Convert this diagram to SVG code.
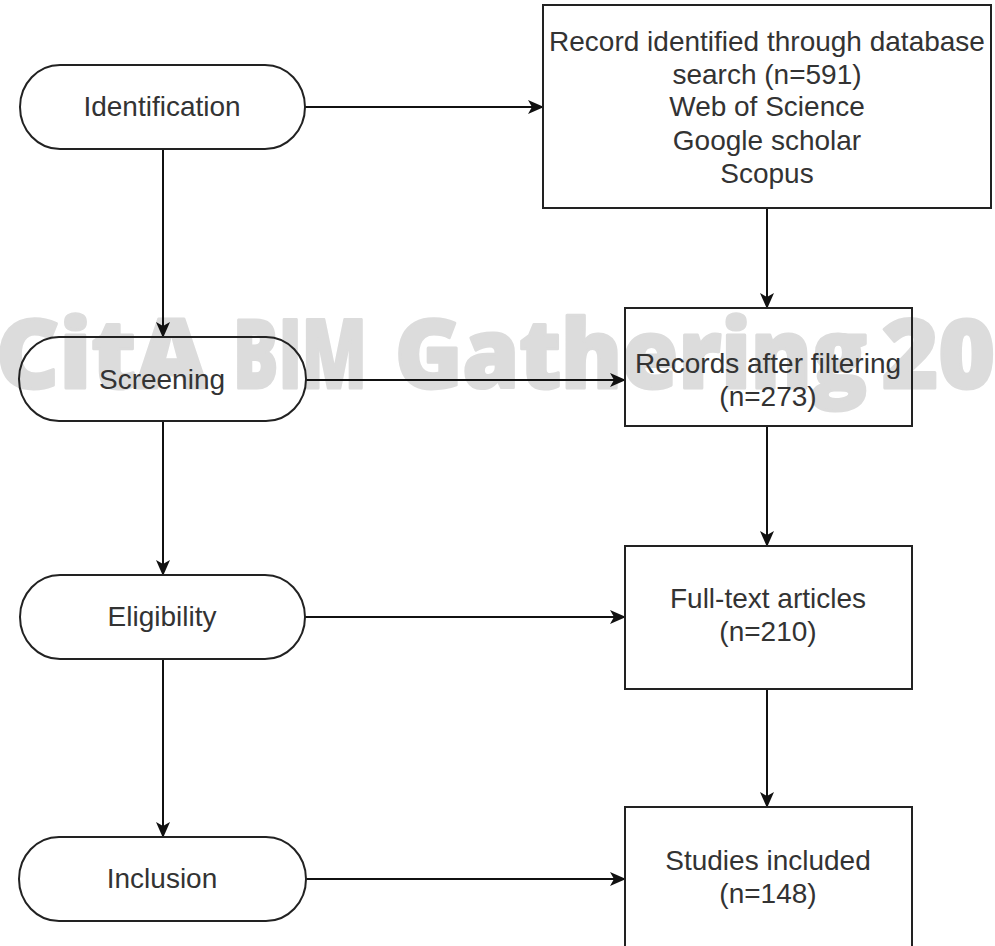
<svg xmlns="http://www.w3.org/2000/svg" width="995" height="946" viewBox="0 0 995 946">
<style>
.shape{fill:none;stroke:#222;stroke-width:2}
.lbl{font-family:"Liberation Sans",Arial,sans-serif;font-size:28px;fill:#333;text-anchor:middle}
.conn{stroke:#111;stroke-width:2;fill:none}
.wm{font-family:"Open Sans","Noto Sans",sans-serif;font-weight:800;font-size:95px;fill:#dcdcdc;stroke:#dcdcdc;stroke-width:3;stroke-linejoin:round}
</style>
<defs>
<marker id="arr" viewBox="0 0 16 14" refX="15" refY="7" markerWidth="16" markerHeight="14" markerUnits="userSpaceOnUse" orient="auto">
<path d="M0,0 L16,7 L0,14 L4,7 z" fill="#111"/>
</marker>
</defs>
<rect width="995" height="946" fill="#fff"/>
<g id="watermark">
<text class="wm" x="-4" y="388" textLength="211" lengthAdjust="spacingAndGlyphs">CitA</text>
<text class="wm" x="233" y="388" textLength="134" lengthAdjust="spacingAndGlyphs">BIM</text>
<text class="wm" x="395" y="388" textLength="472" lengthAdjust="spacingAndGlyphs">Gathering</text>
<text class="wm" x="882" y="388" textLength="226" lengthAdjust="spacingAndGlyphs">2023</text>
</g>
<g id="connectors">
<line class="conn" x1="305" y1="107" x2="543" y2="107" marker-end="url(#arr)"/>
<line class="conn" x1="306" y1="380" x2="625" y2="380" marker-end="url(#arr)"/>
<line class="conn" x1="305" y1="617" x2="625" y2="617" marker-end="url(#arr)"/>
<line class="conn" x1="306" y1="879" x2="625" y2="879" marker-end="url(#arr)"/>
<line class="conn" x1="163" y1="149" x2="163" y2="337" marker-end="url(#arr)"/>
<line class="conn" x1="163" y1="421" x2="163" y2="575" marker-end="url(#arr)"/>
<line class="conn" x1="163" y1="659" x2="163" y2="837" marker-end="url(#arr)"/>
<line class="conn" x1="767" y1="208" x2="767" y2="308" marker-end="url(#arr)"/>
<line class="conn" x1="767" y1="426" x2="767" y2="546" marker-end="url(#arr)"/>
<line class="conn" x1="767" y1="689" x2="767" y2="807" marker-end="url(#arr)"/>
</g>
<g id="identification">
<rect class="shape" x="20" y="65" width="285" height="84" rx="40" ry="42"/>
<text class="lbl" x="162" y="116">Identification</text>
</g>
<g id="screening">
<rect class="shape" x="19" y="337" width="287" height="84" rx="40" ry="42"/>
<text class="lbl" x="162" y="389">Screening</text>
</g>
<g id="eligibility">
<rect class="shape" x="20" y="575" width="285" height="84" rx="40" ry="42"/>
<text class="lbl" x="162" y="626">Eligibility</text>
</g>
<g id="inclusion">
<rect class="shape" x="19" y="837" width="287" height="84" rx="40" ry="42"/>
<text class="lbl" x="162" y="888">Inclusion</text>
</g>
<g id="records-identified">
<rect class="shape" x="543" y="5" width="448" height="203"/>
<text class="lbl" x="767" y="51">Record identified through database</text>
<text class="lbl" x="767" y="84">search (n=591)</text>
<text class="lbl" x="767" y="116">Web of Science</text>
<text class="lbl" x="767" y="150">Google scholar</text>
<text class="lbl" x="767" y="183">Scopus</text>
</g>
<g id="records-filtered">
<rect class="shape" x="625" y="308" width="287" height="118"/>
<text class="lbl" x="768" y="373">Records after filtering</text>
<text class="lbl" x="768" y="406">(n=273)</text>
</g>
<g id="full-text">
<rect class="shape" x="625" y="546" width="287" height="143"/>
<text class="lbl" x="768" y="608">Full-text articles</text>
<text class="lbl" x="768" y="641">(n=210)</text>
</g>
<g id="studies-included">
<rect class="shape" x="625" y="807" width="287" height="160"/>
<text class="lbl" x="768" y="870">Studies included</text>
<text class="lbl" x="768" y="903">(n=148)</text>
</g>
</svg>
